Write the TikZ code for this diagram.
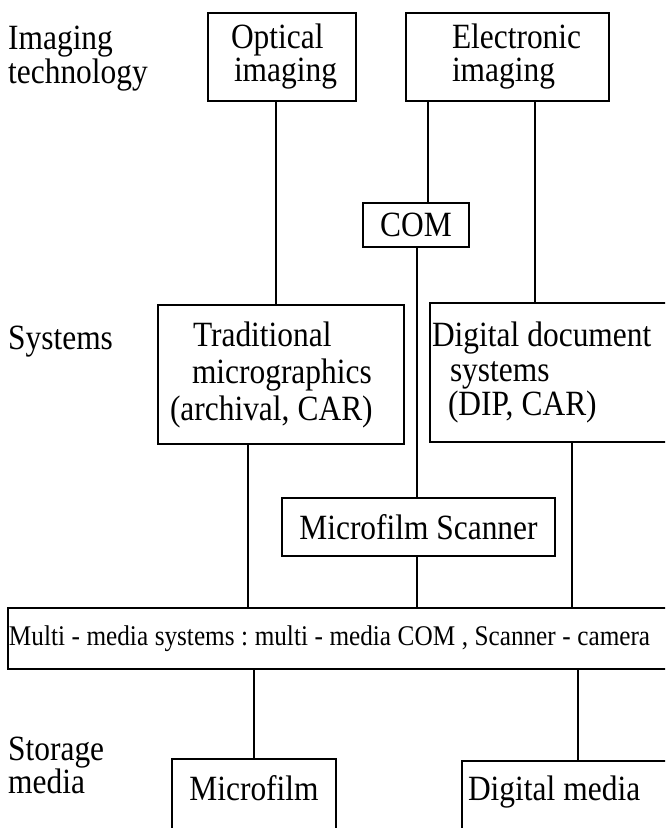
\documentclass[tikz,border=0pt]{standalone}
\usepackage{fontspec}
\setmainfont{Liberation Serif}[FakeStretch=0.885]
\newcommand{\natsp}{\spaceskip=0.23em\relax\xspaceskip=0.23em\relax}
\begin{document}
\begin{tikzpicture}[x=1pt,y=-1pt,
  box/.style={draw, line width=1.7pt, inner sep=0pt, font=\fontsize{35.5}{33}\selectfont},
  lbl/.style={inner sep=0pt, align=left, font=\fontsize{35.5}{34}\selectfont},
  conn/.style={line width=1.7pt}]
\useasboundingbox (0,0) rectangle (665,828);
\clip (0,0) rectangle (665,828);

% side labels
\node[lbl, anchor=west] (lt) at (8,59) {Imaging\\technology};
\node[lbl, anchor=base west] (ls) at (8,349) {Systems};
\node[lbl, anchor=west, font=\fontsize{35.5}{33}\selectfont] (lm) at (8,765) {Storage\\media};

% boxes
\node[box, minimum width=148pt, minimum height=88pt, text width=148pt, align=left] (opt) at (282,57)
  {\hspace*{23pt}Optical\\\hspace*{26pt}imaging};
\node[box, minimum width=203pt, minimum height=88pt, text width=203pt, align=left] (ele) at (507.5,57)
  {\hspace*{46pt}Electronic\\\hspace*{46pt}imaging};
\node[box, minimum width=106pt, minimum height=44pt] (com) at (416,225) {COM};
\node[box, minimum width=246pt, minimum height=139pt, text width=246pt, align=left,
      font=\fontsize{35.5}{37}\selectfont] (trad) at (281,374.5)
  {\natsp\hspace*{35pt}Traditional\\\hspace*{34pt}micrographics\\\hspace*{12pt}(archival, CAR)};
\node[box, minimum width=260pt, minimum height=139pt, text width=260pt, align=left,
      font=\fontsize{35.5}{34.5}\selectfont] (dig) at (560,372.5)
  {\natsp\hspace*{2pt}Digital document\\\hspace*{20pt}systems\\\hspace*{18pt}(DIP, CAR)};
\node[box, minimum width=273pt, minimum height=58pt] (scan) at (418.5,527) {Microfilm Scanner};
\node[box, minimum width=692pt, minimum height=61pt, text width=692pt, align=left,
      font=\fontsize{28.5}{30}\selectfont] (multi) at (354,638.5)
  {\natsp\hspace*{1pt}Multi - media systems : multi - media COM , Scanner - camera};
\node[box, minimum width=164pt, minimum height=98pt, text height=24pt, text depth=40pt] (mf) at (254,808) {Microfilm};
\node[box, minimum width=238pt, minimum height=94pt, text width=238pt, align=left,
      text height=24pt, text depth=40pt] (dm) at (581,808) {\natsp\hspace*{6pt}Digital media};

% connector x positions
\coordinate (x1) at (276,0);
\coordinate (x2) at (428,0);
\coordinate (x3) at (535,0);
\coordinate (x4) at (417,0);
\coordinate (x5) at (248,0);
\coordinate (x6) at (572,0);
\coordinate (x7) at (254,0);
\coordinate (x8) at (578,0);

\draw[conn] (opt.south -| x1) -- (trad.north -| x1);
\draw[conn] (ele.south -| x2) -- (com.north -| x2);
\draw[conn] (ele.south -| x3) -- (dig.north -| x3);
\draw[conn] (com.south -| x4) -- (scan.north -| x4);
\draw[conn] (trad.south -| x5) -- (multi.north -| x5);
\draw[conn] (scan.south -| x4) -- (multi.north -| x4);
\draw[conn] (dig.south -| x6) -- (multi.north -| x6);
\draw[conn] (multi.south -| x7) -- (mf.north -| x7);
\draw[conn] (multi.south -| x8) -- (dm.north -| x8);
\end{tikzpicture}
\end{document}
